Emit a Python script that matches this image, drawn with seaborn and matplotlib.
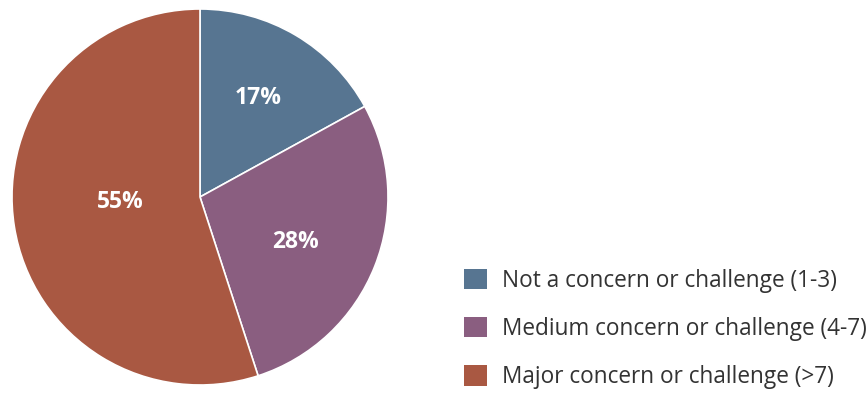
import matplotlib
matplotlib.use("Agg")
import matplotlib.pyplot as plt
import matplotlib.patches as mpatches
import numpy as np
import seaborn as sns

categories = [
    "Not a concern or challenge (1-3)",
    "Medium concern or challenge (4-7)",
    "Major concern or challenge (>7)",
]
shares = [17, 28, 55]
colors = ["#577591", "#8a5e80", "#a95842"]
# label placement: fraction of the radius, and an angular nudge (deg) off the wedge middle
label_radius = [0.61, 0.56, 0.425]
label_nudge = [0.0, -3.5, -5.5]

sns.set_theme(style="white")
plt.rcParams["font.family"] = ["Open Sans", "DejaVu Sans"]

W, H = 868, 394
fig = plt.figure(figsize=(W / 100, H / 100), dpi=100)
cx, cy, r = 200, 197, 188
ax = fig.add_axes([(cx - r) / W, (H - cy - r) / H, 2 * r / W, 2 * r / H])

wedges, _ = ax.pie(
    shares,
    colors=colors,
    startangle=90,
    counterclock=False,
    radius=1.0,
    wedgeprops=dict(edgecolor="white", linewidth=1.2),
)
ax.set_xlim(-1, 1)
ax.set_ylim(-1, 1)
ax.set_aspect("equal")
ax.axis("off")

for w, val, lr, nd in zip(wedges, shares, label_radius, label_nudge):
    mid = np.deg2rad((w.theta1 + w.theta2) / 2 + nd)
    ax.text(lr * np.cos(mid), lr * np.sin(mid), f"{val}%",
            ha="center", va="center", color="white",
            fontsize=16.5, fontweight="bold")

handles = [mpatches.Patch(facecolor=c, edgecolor="none", label=lab)
           for c, lab in zip(colors, categories)]
fs = 16.3
px = fs * 100 / 72
leg = fig.legend(
    handles=handles,
    loc="lower left",
    bbox_to_anchor=(464 / W, 5 / H),
    frameon=False,
    fontsize=fs,
    handlelength=23 / px,
    handleheight=23 / px,
    handletextpad=15 / px,
    labelspacing=1.07,
    borderpad=0,
    borderaxespad=0,
)
for t in leg.get_texts():
    t.set_color("#333333")

fig.savefig("out.png", dpi=100)
